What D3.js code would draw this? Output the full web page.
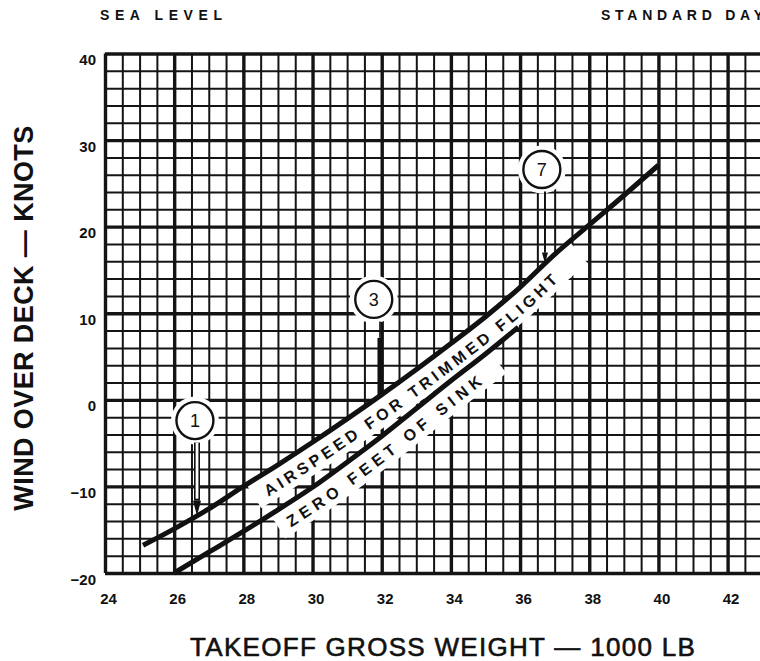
<!DOCTYPE html>
<html><head><meta charset="utf-8">
<script src="https://cdn.jsdelivr.net/npm/d3@7"></script>
<style>
html,body{margin:0;padding:0;background:#fff;}
svg{display:block;}
text{font-family:"Liberation Sans", Arial, Helvetica, sans-serif;fill:#111;}
</style></head><body>
<svg id="chart" width="760" height="661"></svg>
<script>
// ---------- data ----------
const xTickValues = [24, 26, 28, 30, 32, 34, 36, 38, 40, 42];
const yTickValues = [-20, -10, 0, 10, 20, 30, 40];
const trimWeight = [25.1, 26, 27, 28, 29, 30, 31, 32, 33, 34, 35, 36, 37, 38, 39, 40];
const trimWind   = [-16.8, -14.9, -12.6, -10.0, -7.5, -4.9, -2.2, 0.6, 3.5, 6.5, 9.6, 13.0, 16.8, 20.2, 23.6, 27.1];
const sinkWeight = [26, 27, 28, 29, 30, 31, 32, 33, 34, 35, 35.95];
const sinkWind   = [-20.0, -17.6, -15.2, -12.7, -10.1, -7.2, -4.2, -1.0, 2.2, 5.3, 8.4];
const markerLabels = ["1", "3", "7"];
const markerCircleWeight = [26.6, 31.77, 36.63];
const markerCircleWind = [-2.4, 11.6, 26.6];
const markerArrowWeight = [26.66, 31.95, 36.72];
const curveLabels = ["AIRSPEED FOR TRIMMED FLIGHT", "ZERO FEET OF SINK"];
const headerLeft = "SEA LEVEL";
const headerRight = "STANDARD DAY";
const xTitle = "TAKEOFF GROSS WEIGHT — 1000 LB";
const yTitle = "WIND OVER DECK — KNOTS";

// ---------- setup ----------
const W = 760, H = 661;
const svg = d3.select("#chart");
svg.append("rect").attr("width", W).attr("height", H).attr("fill", "#fff");

const x = d3.scaleLinear().domain([24, 42]).range([105, 727.6]);
const y = d3.scaleLinear().domain([-20, 40]).range([573, 53.5]);
const plotTop = y(40), plotBottom = y(-20), plotLeft = x(24);
const xEnd = x.invert(W + 2);

const xMinor = d3.range(24.5, xEnd, 0.5).filter(v => v % 2 !== 0);
const xMajor = d3.range(24, xEnd, 2);
const yMinor = d3.range(-20, 40.01, 2).filter(v => v % 10 !== 0);
const yMajor = d3.range(-20, 40.01, 10);

function fitText(sel, target) {
  const n = sel.text().length;
  const w = sel.node().getComputedTextLength();
  sel.attr("letter-spacing", ((target - w) / Math.max(1, n - 1)).toFixed(2));
}

// ---------- grid ----------
function vgrid(values, width) {
  const g = svg.append("g").attr("transform", `translate(0,${plotBottom})`)
    .call(d3.axisBottom(x).tickValues(values).tickSize(-(plotBottom - plotTop)).tickFormat(""));
  g.select(".domain").remove();
  g.selectAll("line").attr("stroke", "#141414").attr("stroke-width", width);
}
function hgrid(values, width) {
  const g = svg.append("g").attr("transform", `translate(${plotLeft},0)`)
    .call(d3.axisLeft(y).tickValues(values).tickSize(-(W - plotLeft + 2)).tickFormat(""));
  g.select(".domain").remove();
  g.selectAll("line").attr("stroke", "#141414").attr("stroke-width", width);
}
vgrid(xMinor, 2);
hgrid(yMinor, 2);
vgrid(xMajor, 3.4);
hgrid(yMajor, 3.4);

// ---------- curves ----------
const bandLayer = svg.append("g");
const curveLayer = svg.append("g");
const textLayer = svg.append("g");
const defs = svg.append("defs");

const line = d3.line().x(d => x(d[0])).y(d => y(d[1])).curve(d3.curveMonotoneX);
const trimData = d3.zip(trimWeight, trimWind);
const sinkData = d3.zip(sinkWeight, sinkWind);

const trimPath = curveLayer.append("path").attr("d", line(trimData))
  .attr("fill", "none").attr("stroke", "#111").attr("stroke-width", 5);
const sinkPath = curveLayer.append("path").attr("d", line(sinkData))
  .attr("fill", "none").attr("stroke", "#111").attr("stroke-width", 5);

function offsetPoints(node, px0, px1, off) {
  const L = node.getTotalLength(); const pts = [];
  for (let s = 0; s <= L; s += 1.5) {
    const p = node.getPointAtLength(s);
    if (p.x < px0 || p.x > px1) continue;
    const a = node.getPointAtLength(Math.max(0, s - 3)), b = node.getPointAtLength(Math.min(L, s + 3));
    let tx = b.x - a.x, ty = b.y - a.y; const n = Math.hypot(tx, ty) || 1; tx /= n; ty /= n;
    pts.push([p.x - ty * off, p.y + tx * off]);
  }
  return pts;
}
const smooth = d3.line().curve(d3.curveBasis);

function curveLabel(pathSel, id, label, band0, band1, txt0, txt1, targetLen) {
  const node = pathSel.node();
  bandLayer.append("path").attr("d", smooth(offsetPoints(node, band0, band1, 15)))
    .attr("fill", "none").attr("stroke", "#fff").attr("stroke-width", 26).attr("stroke-linecap", "butt");
  defs.append("path").attr("id", id).attr("d", smooth(offsetPoints(node, txt0, txt1, 22)));
  const t = textLayer.append("text").attr("font-size", 16).attr("font-weight", "bold");
  t.append("textPath").attr("href", "#" + id).text(label);
  fitText(t, targetLen);
}
curveLabel(trimPath, "tpTrim", curveLabels[0], 246, 570, 256, 640, 362);
curveLabel(sinkPath, "tpSink", curveLabels[1], 270, 490, 279, 530, 240);

// ---------- markers ----------
const tipWind = d3.scaleLinear().domain(trimWeight).range(trimWind);
const markerLayer = svg.append("g");
markerLabels.forEach((lab, i) => {
  const cx = x(markerCircleWeight[i]), cy = y(markerCircleWind[i]);
  const ax = x(markerArrowWeight[i]), tipY = y(tipWind(markerArrowWeight[i]));
  const g = markerLayer.append("g");
  g.append("circle").attr("cx", cx).attr("cy", cy).attr("r", 24).attr("fill", "#fff");
  const top = cy + 22;
  if (i === 0) {
    const headTop = tipY - 15;
    g.append("line").attr("x1", ax).attr("x2", ax).attr("y1", top).attr("y2", headTop)
      .attr("stroke", "#111").attr("stroke-width", 6);
    g.append("line").attr("x1", ax).attr("x2", ax).attr("y1", top).attr("y2", headTop - 2)
      .attr("stroke", "#fff").attr("stroke-width", 2.8);
    g.append("path").attr("d", `M${ax - 4},${headTop} L${ax + 4},${headTop} L${ax},${tipY} Z`).attr("fill", "#111");
  } else if (i === 1) {
    g.append("line").attr("x1", ax).attr("x2", ax).attr("y1", top).attr("y2", tipY - 58)
      .attr("stroke", "#111").attr("stroke-width", 1.6);
    g.append("line").attr("x1", ax).attr("x2", ax).attr("y1", tipY - 58).attr("y2", tipY)
      .attr("stroke", "#111").attr("stroke-width", 5);
  } else {
    const headTop = tipY - 11;
    g.append("line").attr("x1", ax).attr("x2", ax).attr("y1", top).attr("y2", headTop)
      .attr("stroke", "#111").attr("stroke-width", 2);
    g.append("path").attr("d", `M${ax - 3},${headTop} L${ax + 3},${headTop} L${ax},${tipY} Z`).attr("fill", "#111");
  }
  g.append("circle").attr("cx", cx).attr("cy", cy).attr("r", 18.5)
    .attr("fill", "#fff").attr("stroke", "#111").attr("stroke-width", 2.4);
  g.append("text").attr("x", cx).attr("y", cy).attr("dy", "0.36em").attr("text-anchor", "middle")
    .attr("font-size", 18).text(lab);
});

// ---------- axes labels ----------
const fmt = d => d < 0 ? "\u2212" + Math.abs(d) : String(d);
const xa = svg.append("g").attr("transform", `translate(3,604)`)
  .call(d3.axisBottom(x).tickValues(xTickValues).tickSize(0).tickPadding(0).tickFormat(fmt));
xa.select(".domain").remove();
xa.selectAll("text").attr("y", 0).attr("dy", 0).attr("font-size", 15).attr("font-weight", "bold")
  .attr("font-family", "'Liberation Sans', Arial, sans-serif").attr("fill", "#111");

const ya = svg.append("g").attr("transform", `translate(96,0)`)
  .call(d3.axisLeft(y).tickValues(yTickValues).tickSize(0).tickPadding(0).tickFormat(fmt));
ya.select(".domain").remove();
ya.selectAll("text").attr("x", 0).attr("dy", 11).attr("font-size", 15).attr("font-weight", "bold")
  .attr("font-family", "'Liberation Sans', Arial, sans-serif").attr("fill", "#111");

// ---------- titles ----------
const hl = svg.append("text").attr("x", 100).attr("y", 20).attr("font-size", 14).attr("font-weight", "bold").text(headerLeft);
fitText(hl, 122);
const hr = svg.append("text").attr("x", 601).attr("y", 20).attr("font-size", 14).attr("font-weight", "bold").text(headerRight);
fitText(hr, 162);

const xt = svg.append("text").attr("x", 190).attr("y", 656).attr("font-size", 26)
  .attr("stroke", "#111").attr("stroke-width", 0.6).text(xTitle);
fitText(xt, 505);

const yt = svg.append("text").attr("transform", "translate(33,318) rotate(-90)")
  .attr("text-anchor", "middle").attr("font-size", 27).attr("font-weight", "bold").text(yTitle);
fitText(yt, 385);
</script>
</body></html>
